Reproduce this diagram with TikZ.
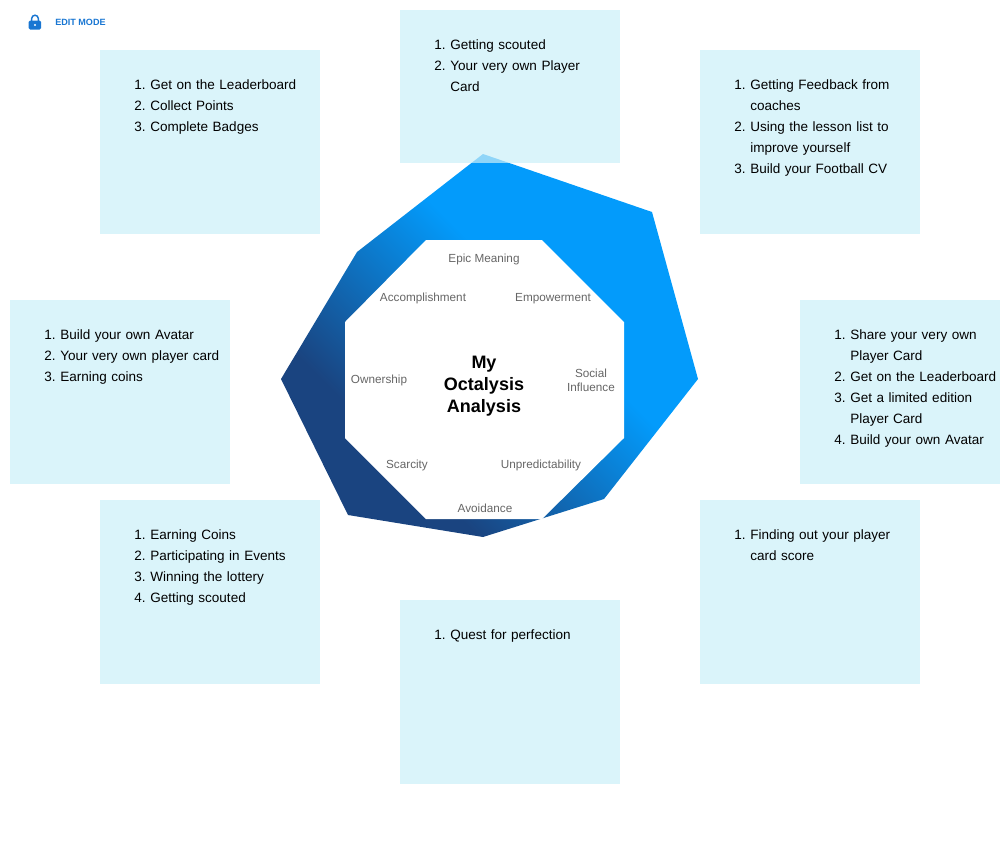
\documentclass[tikz,border=0pt]{standalone}
\usepackage{fontspec}
\setmainfont{Liberation Sans}
\definecolor{ringdark}{RGB}{26,68,128}
\definecolor{ringbright}{RGB}{3,155,251}
\definecolor{notefill}{RGB}{203,239,248}
\definecolor{editblue}{RGB}{25,118,210}
\definecolor{coregray}{RGB}{102,102,102}
\pgfdeclarehorizontalshading{ringfade}{100bp}{color(0bp)=(ringdark); color(32.9bp)=(ringdark); color(57.2bp)=(ringbright); color(100bp)=(ringbright)}
\newenvironment{notelist}{\begin{list}{\arabic{enumi}.}{\usecounter{enumi}\setlength{\leftmargin}{37.5pt}\setlength{\labelsep}{3.5pt}\setlength{\labelwidth}{20pt}\setlength{\itemsep}{0pt}\setlength{\parsep}{0pt}\setlength{\topsep}{0pt}\setlength{\partopsep}{0pt}}}{\end{list}}
\tikzset{
  notebox/.style={anchor=north west,fill=notefill,fill opacity=0.7,inner sep=0pt,minimum width=165pt,minimum height=138pt},
  notetext/.style={anchor=north west,inner sep=0pt,text width=165pt,align=left,font=\fontsize{10.15}{15.75}\selectfont},
  corelabel/.style={text=coregray,inner sep=0pt,align=center,font=\fontsize{8.8}{10.5}\selectfont}
}
\begin{document}
\begin{tikzpicture}[x=0.75pt,y=-0.75pt]
\useasboundingbox (0,0) rectangle (1000,865);
\begin{scope}
\clip (483,154) -- (652,212) -- (698,379) -- (604,499) -- (483,537) -- (348,515) -- (281,379) -- (357,252) -- cycle;
\shade[shading=ringfade,shading angle=45] (280,136) rectangle (700,556);
\end{scope}
\fill[white] (426,240) -- (542,240) -- (624,322) -- (624,438) -- (542,519) -- (426,519) -- (345,438) -- (345,322) -- cycle;
\node[notebox] (note1) at (100,50) {};
\node[notebox,minimum height=114.75pt] (note2) at (400,10) {};
\node[notebox] (note3) at (700,50) {};
\node[notebox,minimum width=150pt] (note4) at (800,300) {};
\node[notebox] (note5) at (700,500) {};
\node[notebox] (note6) at (400,600) {};
\node[notebox] (note7) at (100,500) {};
\node[notebox] (note8) at (10,300) {};
\node[notetext] (list1) at ([yshift=-13.5pt]note1.north west) {\begin{notelist}\item Get on the Leaderboard\item Collect Points\item Complete Badges\end{notelist}};
\node[notetext] (list2) at ([yshift=-13.5pt]note2.north west) {\begin{notelist}\item Getting scouted\item Your very own Player\\Card\end{notelist}};
\node[notetext] (list3) at ([yshift=-13.5pt]note3.north west) {\begin{notelist}\item Getting Feedback from\\coaches\item Using the lesson list to\\improve yourself\item Build your Football CV\end{notelist}};
\node[notetext] (list4) at ([yshift=-13.5pt]note4.north west) {\begin{notelist}\item Share your very own\\Player Card\item Get on the Leaderboard\item Get a limited edition\\Player Card\item Build your own Avatar\end{notelist}};
\node[notetext] (list5) at ([yshift=-13.5pt]note5.north west) {\begin{notelist}\item Finding out your player\\card score\end{notelist}};
\node[notetext] (list6) at ([yshift=-13.5pt]note6.north west) {\begin{notelist}\item Quest for perfection\end{notelist}};
\node[notetext] (list7) at ([yshift=-13.5pt]note7.north west) {\begin{notelist}\item Earning Coins\item Participating in Events\item Winning the lottery\item Getting scouted\end{notelist}};
\node[notetext] (list8) at ([yshift=-13.5pt]note8.north west) {\begin{notelist}\item Build your own Avatar\item Your very own player card\item Earning coins\end{notelist}};
\node[corelabel] (epic) at (484,259.5) {Epic Meaning};
\node[corelabel] (empower) at (553,298.5) {Empowerment};
\node[corelabel] (social) at (591,380) {Social\\Influence};
\node[corelabel] (unpredict) at (541,465.5) {Unpredictability};
\node[corelabel] (avoid) at (485,508) {Avoidance};
\node[corelabel] (scarcity) at (407,465.5) {Scarcity};
\node[corelabel] (owner) at (379,380.5) {Ownership};
\node[corelabel] (accomplish) at (423,298.5) {Accomplishment};
\node[inner sep=0pt,align=center,font=\fontsize{13.5}{16.5}\selectfont\bfseries] (title) at (484,386.5) {My\\Octalysis\\Analysis};
\draw[editblue,line width=1.1pt] (31.7,21) -- (31.7,18.5) arc[start angle=180,end angle=360,radius=3.3] -- (38.3,21);
\fill[editblue,rounded corners=1pt] (28.7,20.5) rectangle (41,29.5);
\fill[white] (35,25) circle[radius=1.2];
\node[anchor=west,text=editblue,inner sep=0pt,font=\fontsize{6.8}{8}\selectfont\bfseries] (edit) at (55,22.5) {EDIT MODE};
\end{tikzpicture}
\end{document}
